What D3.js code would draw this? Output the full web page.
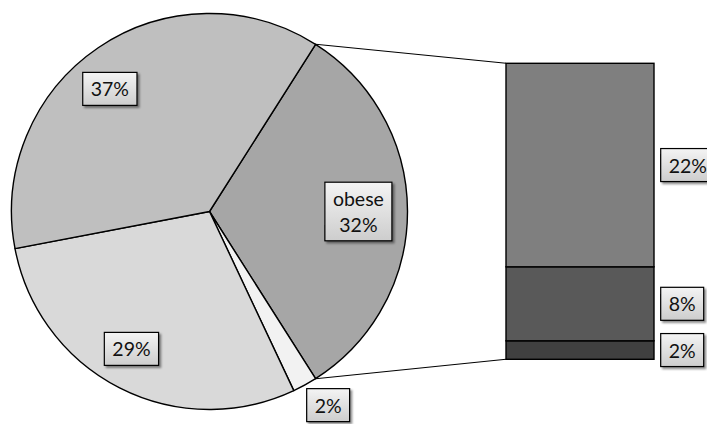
<!DOCTYPE html>
<html>
<head>
<meta charset="utf-8">
<script src="https://cdn.jsdelivr.net/npm/d3@7"></script>
<style>
  html, body { margin: 0; padding: 0; background: #fff; }
  svg { display: block; }
  text { font-family: Lato, "Open Sans", sans-serif; font-size: 19.5px; fill: #111; }
</style>
</head>
<body>
<svg id="chart" width="707" height="424"></svg>
<script>
// Pie categories, clockwise from the split-off slice
const pieCategories = ["obese", "underweight", "normal", "overweight"];
const pieValues = [32, 2, 29, 37];
const pieLabels = ["obese\n32%", "2%", "29%", "37%"];
const pieColors = ["#a6a6a6", "#f2f2f2", "#d9d9d9", "#bfbfbf"];

// Breakdown of the obese slice, bottom to top
const barCategories = ["class 3", "class 2", "class 1"];
const barValues = [2, 8, 22];
const barLabels = ["2%", "8%", "22%"];
const barColors = ["#404040", "#595959", "#7f7f7f"];

const svg = d3.select("#chart");
const cx = 209.5, cy = 211.5, R = 198;

// drop shadow used by the label boxes
const defs = svg.append("defs");
defs.append("filter").attr("id", "shadow")
  .attr("x", "-20%").attr("y", "-20%").attr("width", "150%").attr("height", "160%")
  .append("feDropShadow")
  .attr("dx", 2).attr("dy", 2).attr("stdDeviation", 1.3)
  .attr("flood-color", "#000").attr("flood-opacity", 0.45);
const grad = defs.append("linearGradient").attr("id", "boxFill")
  .attr("x1", 0).attr("y1", 0).attr("x2", 0).attr("y2", 1);
grad.append("stop").attr("offset", "0%").attr("stop-color", "#f4f4f4");
grad.append("stop").attr("offset", "100%").attr("stop-color", "#cdcdcd");

// split slice is centred on the right-hand horizontal
const total = d3.sum(pieValues);
const splitSpan = pieValues[0] / total * 2 * Math.PI;
const start = Math.PI / 2 - splitSpan / 2;

const pie = d3.pie().sort(null).value(d => d)
  .startAngle(start).endAngle(start + 2 * Math.PI);
const arcs = pie(pieValues);
const arc = d3.arc().innerRadius(0).outerRadius(R);

const g = svg.append("g").attr("transform", `translate(${cx},${cy})`);
g.selectAll("path.slice").data(arcs).enter().append("path")
  .attr("class", "slice")
  .attr("d", arc)
  .attr("fill", (d, i) => pieColors[i])
  .attr("stroke", "#000").attr("stroke-width", 1.4)
  .attr("stroke-linejoin", "round");

// stacked bar for the split slice
const barX0 = 506, barX1 = 654;
const y = d3.scaleLinear().domain([0, d3.sum(barValues)]).range([359.3, 63.3]);
const stacked = [];
let acc = 0;
barValues.forEach((v, i) => { stacked.push({ i, y0: acc, y1: acc + v }); acc += v; });

svg.selectAll("rect.seg").data(stacked).enter().append("rect")
  .attr("class", "seg")
  .attr("x", barX0).attr("width", barX1 - barX0)
  .attr("y", d => y(d.y1)).attr("height", d => y(d.y0) - y(d.y1))
  .attr("fill", d => barColors[d.i])
  .attr("stroke", "#000").attr("stroke-width", 1.4);

// connector lines from the split slice to the bar
const sa = arcs[0].startAngle, ea = arcs[0].endAngle;
const pt = a => [cx + R * Math.sin(a), cy - R * Math.cos(a)];
const [tx, ty] = pt(sa), [bx, by] = pt(ea);
svg.append("line").attr("x1", tx).attr("y1", ty).attr("x2", barX0).attr("y2", y(acc))
  .attr("stroke", "#000").attr("stroke-width", 1.1);
svg.append("line").attr("x1", bx).attr("y1", by).attr("x2", barX0).attr("y2", y(0))
  .attr("stroke", "#000").attr("stroke-width", 1.1);

// label box helper: centred at (x, y), or left edge at x when leftAnchored
function labelBox(text, x, y0, leftAnchored) {
  const lines = text.split("\n");
  const lg = svg.append("g");
  const rect = lg.append("rect");
  const t = lg.append("text").attr("text-anchor", "middle");
  const lineGap = 25.6;
  lines.forEach((s, k) => {
    t.append("tspan").attr("x", 0).attr("y", k * lineGap).text(s);
  });
  let w = 0;
  t.selectAll("tspan").each(function () { w = Math.max(w, this.getComputedTextLength()); });
  const bw = w + 16, bh = 33 + lineGap * (lines.length - 1);
  const firstBase = -bh / 2 + 24;
  t.selectAll("tspan").attr("y", (d, k) => firstBase + k * lineGap);
  rect.attr("x", -bw / 2).attr("y", -bh / 2).attr("width", bw).attr("height", bh)
    .attr("fill", "url(#boxFill)").attr("stroke", "#000").attr("stroke-width", 1.2)
    .attr("filter", "url(#shadow)");
  const px = leftAnchored ? x + bw / 2 : x;
  lg.attr("transform", `translate(${px},${y0})`);
}

// pie labels: radial placement around each slice
const labelPlace = [
  { da: 0, rf: 0.752 },
  { da: -2.7, rf: 1.147 },
  { da: 2.6, rf: 0.798 },
  { da: -4.9, rf: 0.798 }
];
arcs.forEach((d, i) => {
  const mid = (d.startAngle + d.endAngle) / 2 + labelPlace[i].da * Math.PI / 180;
  const r = R * labelPlace[i].rf;
  labelBox(pieLabels[i], cx + r * Math.sin(mid), cy - r * Math.cos(mid), false);
});

// bar labels beside each segment
stacked.forEach(d => {
  labelBox(barLabels[d.i], 660.7, (y(d.y0) + y(d.y1)) / 2, true);
});
</script>
</body>
</html>
